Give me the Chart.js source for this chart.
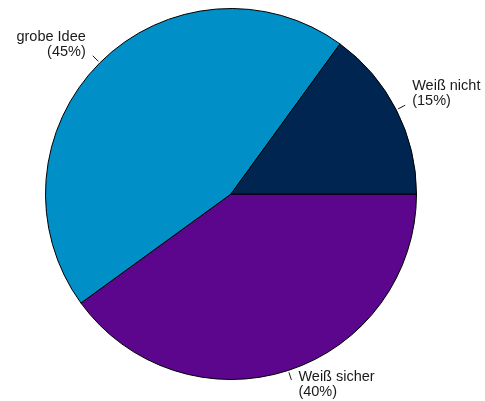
<!DOCTYPE html>
<html>
<head>
<meta charset="utf-8">
<script src="https://cdn.jsdelivr.net/npm/chart.js@4"></script>
<style>
  body { margin: 0; background: #fff; }
</style>
</head>
<body>
<canvas id="mycanvas" width="485" height="401"></canvas>
<script>
// slices in clockwise order, starting at 3 o'clock
var labels = ["Weiß sicher", "grobe Idee", "Weiß nicht"];
var shares = [40, 45, 15];
var colors = ["#5c068e", "#0090c7", "#002550"];

// outside labels with a short leader line
var pieLabels = {
	id: "pieLabels",
	afterDraw: function(chart){
		var ctx = chart.ctx;
		var arcs = chart.getDatasetMeta(0).data;
		ctx.save();
		ctx.font = "14.5px 'Liberation Sans', Arial, sans-serif";
		ctx.fillStyle = "#1a1a1a";
		ctx.strokeStyle = "#1a1a1a";
		ctx.lineWidth = 1;
		for(var i = 0; i < arcs.length; i++){
			var a = arcs[i];
			var mid = (a.startAngle + a.endAngle) / 2;
			var cos = Math.cos(mid), sin = Math.sin(mid);
			var r = a.outerRadius;
			var x1 = a.x + cos * (r + 2), y1 = a.y + sin * (r + 2);
			var x2 = a.x + cos * (r + 10), y2 = a.y + sin * (r + 10);
			ctx.beginPath();
			ctx.moveTo(x1, y1);
			ctx.lineTo(x2, y2);
			ctx.stroke();

			var lines = [labels[i], "(" + shares[i] + "%)"];
			var right = cos >= 0;
			ctx.textAlign = right ? "left" : "right";
			ctx.textBaseline = "alphabetic";
			var tx = right ? x2 + 7 : x2 - 7;
			var base = sin < 0 ? y2 - 15 : y2 + 1;
			ctx.fillText(lines[0], tx, base);
			ctx.fillText(lines[1], tx, base + 15);
		}
		ctx.restore();
	}
};

var chartdata = {
	labels: labels,
	datasets: [
		{
			data: shares,
			backgroundColor: colors,
			borderColor: "#000000",
			borderWidth: 1
		}
	]
};

var ctx = document.getElementById("mycanvas");

var pieChart = new Chart(ctx, {
	type: "pie",
	data: chartdata,
	options: {
		responsive: false,
		animation: false,
		rotation: 90,
		layout: { padding: { left: 45, right: 68, top: 8, bottom: 21 } },
		plugins: {
			legend: { display: false },
			tooltip: { enabled: false }
		}
	},
	plugins: [pieLabels]
});
</script>
</body>
</html>
